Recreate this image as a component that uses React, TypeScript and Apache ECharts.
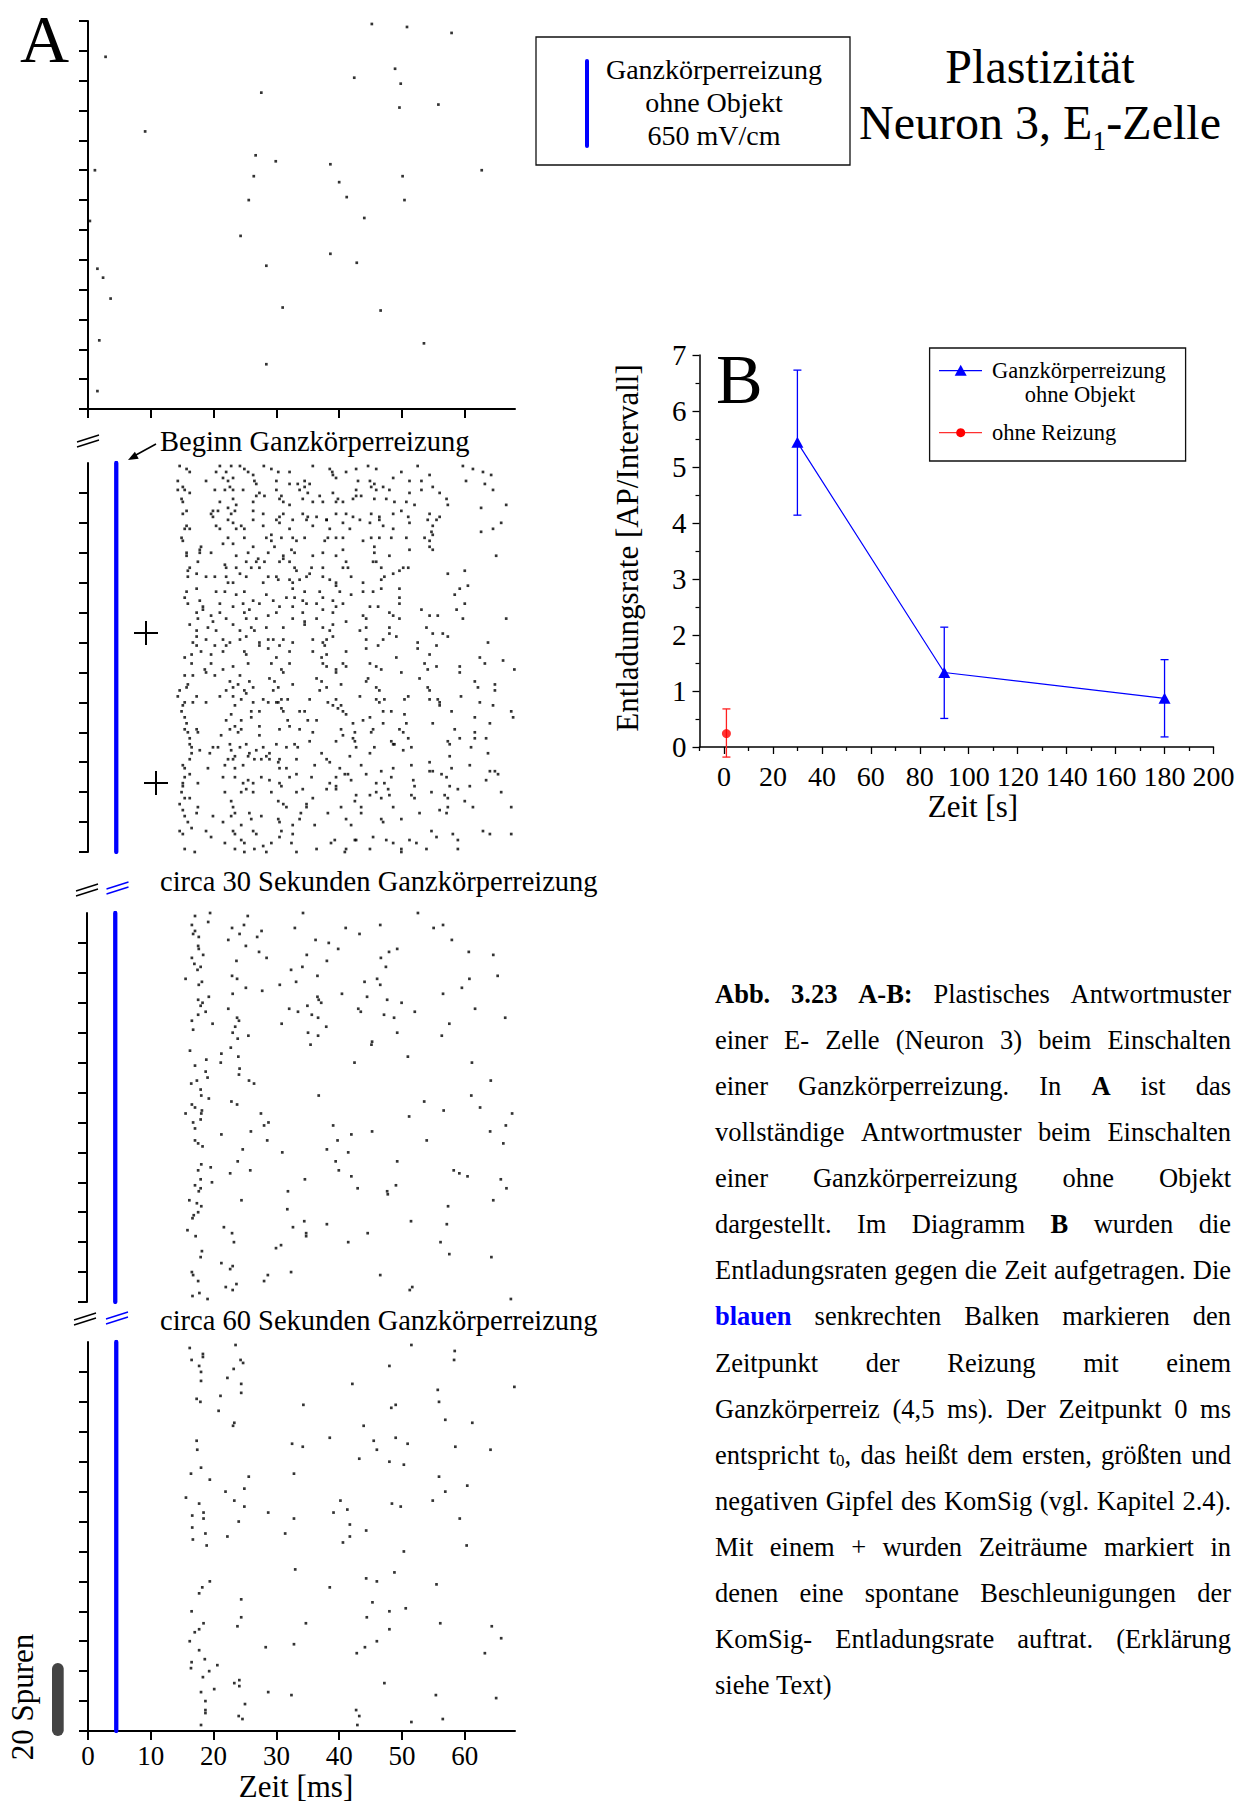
import React, { useEffect, useRef } from 'react';
import * as echarts from 'echarts';

// ---------------- DATA ----------------
const stimMs = 4.5;
const msTicks = [0, 10, 20, 30, 40, 50, 60];
const traceTicksTop = [0, 10, 20, 30, 40, 50, 60, 70, 80, 90, 100, 110, 120, 130];
const traceTicks = [0, 10, 20, 30, 40, 50, 60, 70, 80, 90, 100, 110, 120];
const sTicks = [0, 20, 40, 60, 80, 100, 120, 140, 160, 180, 200];
const sMinorTicks = [-10, 10, 30, 50, 70, 90, 110, 130, 150, 170, 190];

// Panel A, section 1: spontaneous activity before stimulation [ms, trace]
const raster1 = [
  [45.2,129],[50.8,128],[57.9,126],[2.8,118],[48.9,114],[42.4,111],[49.8,109],[27.6,106],[55.8,102],[49.6,101],
  [9.1,93],[26.7,85],[29.9,83],[38.6,82],[1.1,80],[62.7,80],[26.4,78],[50.1,78],[40.0,76],[41.2,71],[25.6,70],
  [50.4,70],[0.3,63],[44.0,64],[24.3,58],[38.6,52],[1.5,47],[28.4,48],[42.8,49],[2.4,44],[3.6,37],[31.0,34],
  [46.6,33],[1.8,23],[53.5,22],[28.4,15],[1.5,6],
];

// Section 2: Beginn Ganzkörperreizung (upper half)
const raster2a = [
  [14.6,129],[15.7,128],[16.2,127],[21.0,129],[22.8,129],[24.2,129],[24.9,128],[28.0,129],[29.2,128],[30.3,127],[32.1,127],[35.8,129],[38.5,128],[38.9,127],[41.1,127],[42.7,128],[44.6,129],[45.9,128],[48.6,125],[49.9,127],[52.5,129],[59.7,129],[61.3,128],[62.9,127],[64.2,126],[20.4,127],[22.0,127],[25.5,127],[26.3,126],
  [14.3,124],[18.8,124],[21.5,125],[22.3,124],[23.1,125],[26.5,124],[26.8,123],[30.0,124],[32.1,123],[33.4,123],[34.5,124],[35.3,123],[39.0,126],[39.5,125],[43.0,124],[44.9,124],[45.6,123],[51.2,124],[53.1,124],[54.4,126],[60.2,124],[63.2,123],[15.1,122],
  [14.3,121],[15.4,121],[16.2,120],[20.2,121],[21.8,121],[22.6,122],[23.1,121],[24.7,121],[27.3,120],[30.0,121],[30.8,119],[33.7,121],[34.5,122],[35.0,120],[36.9,119],[39.0,120],[39.8,118],[42.7,121],[43.5,119],[45.1,122],[45.9,121],[47.0,122],[48.0,121],[51.2,120],[53.1,121],[54.9,122],[56.0,120],[64.5,121],
  [14.9,118],[15.1,117],[21.0,117],[23.1,118],[23.6,116],[26.3,117],[26.8,119],[28.1,119],[30.5,118],[31.1,117],[32.1,116],[34.2,118],[35.8,117],[37.4,117],[39.5,117],[40.6,117],[42.2,118],[42.7,119],[45.6,118],[47.5,118],[48.8,117],[50.7,117],[52.0,116],[57.1,118],[57.3,116],[62.6,115],[66.6,116],[19.9,114],[20.7,114],[22.3,115],
  [15.1,113],[15.7,114],[19.6,113],[19.9,112],[22.3,111],[22.8,113],[23.4,114],[26.3,114],[26.3,111],[27.9,113],[30.5,112],[31.1,113],[32.6,111],[34.2,113],[35.0,112],[36.4,112],[38.0,111],[39.5,113],[41.1,113],[42.2,112],[43.3,111],[45.1,113],[46.4,112],[48.6,113],[49.9,114],[51.0,112],[54.4,113],[56.0,112],[55.5,111],
  [15.7,109],[16.2,108],[15.4,108],[20.4,109],[21.0,108],[23.1,110],[23.6,108],[24.4,109],[24.9,108],[27.9,109],[30.0,111],[30.5,110],[32.1,108],[34.8,111],[35.8,109],[38.0,111],[38.5,108],[40.6,110],[41.7,108],[44.9,110],[46.4,111],[47.0,109],[48.6,108],[51.2,110],[54.1,111],[54.9,109],[54.7,107],[62.6,107],[64.5,108],[65.8,110],
  [14.9,105],[15.1,104],[18.0,102],[21.5,103],[22.3,105],[23.1,103],[24.9,105],[26.3,102],[28.4,105],[29.2,106],[29.2,104],[30.8,105],[32.6,105],[33.2,104],[34.5,105],[37.7,104],[38.2,105],[39.5,105],[40.6,105],[43.8,104],[45.1,105],[46.4,105],[48.3,105],[50.7,105],[53.6,105],[54.4,104],[54.9,106],
  [15.7,100],[15.7,99],[17.8,101],[17.8,100],[19.6,100],[23.6,99],[25.5,100],[27.1,98],[28.7,100],[29.7,102],[31.1,99],[32.4,101],[32.9,100],[35.8,99],[37.4,100],[39.5,99],[40.6,101],[45.6,102],[45.6,100],[48.0,99],[51.2,101],[54.4,102],[54.9,101],[65.0,99],
  [15.9,94],[16.2,95],[17.5,97],[20.2,92],[21.8,96],[22.0,95],[23.6,95],[25.2,97],[26.0,95],[26.8,97],[27.3,95],[28.1,97],[30.5,97],[31.1,98],[32.1,97],[32.9,95],[33.2,94],[35.6,95],[37.4,95],[40.6,95],[41.1,97],[41.4,95],[45.4,97],[45.9,97],[46.7,95],[48.6,93],[49.6,94],[51.0,95],[57.3,93],[60.0,94],
  [15.9,92],[17.3,93],[18.8,92],[22.0,92],[22.3,90],[23.1,90],[24.2,93],[25.2,92],[27.9,90],[28.7,92],[30.0,92],[30.3,91],[32.1,91],[32.6,90],[33.7,91],[34.8,92],[35.3,93],[37.4,92],[38.5,91],[39.5,89],[39.5,90],[41.9,92],[43.8,90],[46.7,91],[47.2,92],[50.2,95],[60.5,89],
  [15.4,85],[15.7,87],[17.8,84],[17.3,88],[20.4,87],[21.8,87],[23.6,86],[24.9,87],[26.3,84],[28.4,86],[29.5,84],[31.6,85],[32.6,88],[32.9,85],[34.5,87],[36.9,87],[37.4,85],[39.0,84],[40.1,87],[40.6,83],[41.9,86],[43.8,87],[45.4,87],[46.7,88],[49.6,85],[49.6,88],[58.4,86],[59.2,88],
  [15.9,83],[18.3,82],[18.3,81],[21.0,83],[23.1,82],[24.7,83],[25.7,81],[27.3,83],[30.5,82],[32.6,82],[34.2,84],[34.8,83],[36.4,83],[37.4,81],[39.0,80],[39.5,82],[44.9,82],[46.2,82],[48.0,80],[49.6,83],[53.1,81],[58.7,81],[60.0,83],[55.7,79],
  [17.3,80],[17.5,78],[19.6,79],[21.0,80],[22.0,78],[24.9,80],[25.2,78],[26.8,78],[28.7,79],[30.0,80],[32.6,78],[34.2,80],[34.5,77],[36.4,78],[41.1,77],[43.8,79],[44.3,78],[48.6,79],[49.6,78],[54.4,79],[59.7,78],[66.6,78],
  [16.2,76],[17.3,74],[19.1,75],[19.9,77],[20.4,74],[23.1,76],[24.2,74],[26.0,75],[26.5,74],[28.4,75],[31.1,75],[34.5,76],[37.4,75],[38.5,74],[39.0,76],[43.3,74],[44.3,75],[48.0,73],[48.0,75],[53.9,75],[54.9,73],[56.5,73],
  [16.7,70],[17.3,72],[18.8,71],[21.5,71],[22.6,70],[24.2,71],[25.2,72],[27.3,70],[28.7,71],[29.5,71],[31.1,71],[32.6,70],[35.8,71],[37.4,70],[38.0,71],[39.0,72],[44.3,71],[47.0,71],[49.1,72],[52.5,70],[57.3,72],[63.7,70],
];

// Section 2: lower half
const raster2b = [
  [17.3,69],[20.2,69],[21.5,67],[22.0,69],[24.9,67],[25.2,66],[27.3,69],[28.7,68],[30.5,69],[32.1,67],[35.8,67],[37.7,69],[38.0,66],[41.1,67],[44.3,68],[46.2,69],[52.5,68],[55.5,69],[15.4,65],[16.5,66],[18.0,67],[19.6,66],
  [16.5,63],[18.6,61],[19.6,63],[20.2,59],[21.5,61],[23.1,62],[24.2,59],[25.5,63],[29.2,63],[30.0,65],[30.8,61],[31.1,60],[32.1,63],[37.2,65],[37.4,63],[38.0,62],[39.5,61],[40.6,63],[41.1,62],[44.9,63],[45.9,62],[46.7,61],[49.1,65],[49.9,60],[53.6,63],[54.1,61],[54.4,66],[55.5,62],[59.2,62],[59.2,60],[62.4,65],[63.2,63],[66.1,64],[67.9,61],
  [15.4,59],[15.9,56],[16.7,59],[15.7,55],[18.8,60],[22.6,57],[23.1,55],[23.9,56],[24.9,54],[25.7,57],[26.3,55],[28.9,58],[29.7,57],[30.3,55],[32.6,56],[36.4,58],[37.2,57],[38.0,55],[39.5,60],[40.3,56],[44.3,57],[44.6,58],[45.9,55],[46.4,54],[52.8,58],[54.1,55],[54.4,54],[61.6,57],[62.1,55],[64.8,56],[64.8,54],
  [14.6,54],[14.3,52],[15.4,50],[17.3,52],[18.8,50],[21.0,52],[22.0,54],[23.1,52],[24.4,51],[25.2,53],[26.3,50],[27.9,51],[29.5,54],[30.0,50],[30.8,51],[31.8,51],[35.3,51],[36.9,54],[38.2,50],[39.5,51],[40.3,49],[43.3,52],[45.9,51],[46.4,50],[47.2,51],[50.4,51],[51.0,52],[54.4,51],[55.7,51],[56.0,50],[59.4,52],[62.4,50],[64.5,49],
  [15.1,49],[14.9,47],[15.4,45],[15.7,43],[16.7,50],[22.0,44],[22.8,46],[23.4,49],[24.4,44],[26.0,47],[26.0,45],[27.3,47],[28.7,50],[30.3,50],[30.8,48],[31.1,47],[31.8,44],[33.7,47],[34.5,47],[35.0,44],[36.4,44],[39.0,49],[39.8,48],[40.6,47],[41.1,46],[42.2,43],[43.8,44],[44.9,45],[47.0,47],[47.0,43],[48.3,47],[50.4,46],[50.7,43],[54.9,43],[56.0,49],[57.9,47],[61.6,45],[64.0,43],[67.4,47],[67.7,45],
  [15.4,41],[15.9,40],[16.2,38],[17.3,41],[17.5,40],[21.2,39],[22.6,41],[23.4,42],[23.9,40],[24.4,41],[27.3,42],[27.3,39],[30.5,41],[32.1,42],[33.7,41],[35.8,40],[40.3,41],[40.6,39],[42.2,38],[42.5,40],[45.1,40],[45.4,41],[48.6,36],[49.6,41],[50.2,40],[51.0,38],[57.3,37],[58.4,41],[59.2,38],[61.6,40],[61.6,38],[63.4,38],
  [16.2,36],[16.5,35],[16.5,33],[17.8,34],[19.4,33],[19.9,35],[20.7,35],[22.6,36],[22.8,34],[23.4,32],[24.2,35],[25.2,36],[25.7,33],[26.8,34],[27.9,35],[28.4,32],[28.9,33],[30.0,36],[30.5,31],[31.6,35],[32.9,36],[33.4,35],[35.3,37],[37.2,33],[38.0,31],[39.5,37],[41.7,32],[42.5,37],[42.7,35],[44.9,33],[45.6,35],[48.3,37],[48.8,36],[50.2,34],[51.5,35],[57.6,36],[57.6,32],[61.0,35],[63.7,33],
  [15.1,29],[15.4,28],[16.2,31],[19.1,28],[21.8,29],[22.3,31],[23.1,31],[23.4,28],[24.7,29],[25.5,32],[26.5,31],[27.6,31],[28.9,31],[30.3,30],[30.5,28],[31.6,28],[33.2,31],[36.1,29],[38.5,30],[40.1,28],[41.4,26],[43.5,29],[46.7,27],[48.6,28],[51.5,29],[54.4,30],[54.9,27],[57.9,28],[60.8,29],[64.0,27],[65.3,26],
  [16.2,26],[15.4,25],[15.1,23],[15.1,22],[17.5,23],[21.5,25],[23.4,25],[24.7,23],[25.5,24],[26.3,23],[27.6,25],[28.9,24],[30.5,23],[30.8,22],[32.1,25],[33.2,26],[34.2,21],[35.6,25],[38.5,23],[39.5,25],[39.5,22],[40.9,26],[41.9,24],[44.3,26],[45.9,23],[47.2,23],[47.8,21],[48.3,25],[51.8,24],[52.0,22],[54.4,27],[56.3,26],[57.1,25],[57.6,22],[58.9,21],[60.8,22],[63.4,24],[64.8,27],
  [14.9,20],[14.6,16],[15.4,18],[16.2,18],[17.5,15],[21.8,20],[22.8,17],[23.1,15],[24.4,20],[25.2,21],[26.3,20],[29.2,20],[30.3,17],[31.1,16],[31.6,15],[33.2,20],[34.8,16],[34.8,15],[35.8,18],[38.0,21],[39.5,21],[42.5,17],[42.7,19],[44.9,19],[45.9,20],[46.7,18],[48.0,19],[51.5,19],[52.0,18],[54.7,20],[56.8,19],[57.3,18],[60.0,17],[65.8,20],
  [15.1,14],[15.4,12],[15.9,10],[16.5,8],[17.3,13],[19.9,12],[21.5,10],[22.8,12],[23.4,13],[24.4,9],[25.7,13],[26.0,11],[27.6,12],[30.3,11],[30.5,10],[32.6,9],[33.7,11],[33.9,13],[36.1,9],[38.2,13],[40.3,15],[41.1,11],[41.9,9],[43.5,15],[43.5,13],[46.7,11],[47.0,10],[48.6,15],[49.9,11],[52.8,13],[56.0,14],[57.1,13],[57.3,15],[61.3,15],[67.4,15],
  [14.6,7],[15.1,6],[18.8,7],[19.6,5],[21.8,3],[23.1,7],[23.4,6],[24.4,4],[24.9,3],[26.3,7],[26.8,6],[27.9,2],[28.4,0],[29.2,3],[30.5,5],[30.8,7],[32.4,3],[32.6,6],[33.2,0],[36.4,1],[38.7,3],[39.3,4],[40.9,0],[41.1,1],[42.5,4],[42.7,4],[44.9,1],[45.4,5],[47.5,4],[48.6,3],[49.9,1],[49.9,0],[51.2,4],[52.3,3],[53.9,1],[54.7,7],[55.5,5],[58.1,6],[58.9,4],[58.9,1],[62.9,7],[64.0,6],[67.4,6],[15.4,1],[17.0,0],[23.4,1],[24.9,0],[26.5,1],
];

// Section 3: circa 30 Sekunden Ganzkörperreizung
const raster3 = [
  [17.2,129],[19.6,130],[19.3,127],[25.6,129],[34.4,130],[52.7,130],[16.7,126],[17.2,124],[17.8,122],[16.9,123],[23.1,125],[25.0,126],[24.3,123],[27.8,124],[27.1,122],[33.1,125],[41.2,125],[43.4,123],[46.7,126],[55.2,125],[56.7,126],
  [22.5,121],[25.3,119],[17.7,119],[17.8,118],[18.5,116],[36.4,121],[38.5,120],[40.0,118],[48.1,117],[49.4,118],[58.1,121],[60.8,117],[64.7,116],[16.7,115],[17.1,113],[17.6,111],[18.1,112],[23.8,114],[27.4,117],[28.6,115],[35.0,116],[38.2,114],[46.8,115],[47.6,112],
  [15.7,108],[17.8,106],[18.3,107],[23.1,109],[23.9,108],[32.5,111],[34.3,112],[36.7,109],[33.3,107],[30.7,106],[27.9,104],[25.3,105],[23.2,103],[44.2,107],[46.2,108],[46.7,106],[60.9,108],[65.4,109],[59.7,105],
  [17.7,101],[18.1,99],[19.4,102],[18.4,100],[18.9,97],[17.7,96],[22.5,98],[32.2,98],[33.6,97],[35.1,99],[36.7,102],[36.9,101],[37.3,100],[35.8,96],[36.8,95],[40.6,103],[44.6,102],[43.2,98],[43.6,97],[47.8,101],[50.1,100],[47.3,96],[48.9,95],[52.2,97],[56.7,103],[61.8,98],[66.6,95],
  [16.7,94],[16.9,91],[20.0,93],[23.9,95],[24.2,94],[23.6,92],[23.2,90],[25.7,89],[24.0,88],[22.9,85],[31.0,93],[35.2,90],[36.8,89],[38.1,92],[35.6,86],[45.4,87],[45.3,86],[49.4,90],[56.5,89],[57.7,93],
  [16.4,84],[17.2,79],[21.4,83],[21.3,80],[24.1,82],[19.0,81],[18.9,77],[19.2,75],[24.3,78],[24.2,76],[25.8,74],[26.6,73],[42.6,80],[51.1,82],[61.3,80],[64.3,74],
  [16.6,73],[17.5,74],[18.1,71],[18.2,69],[19.4,68],[23.0,67],[23.9,66],[36.9,69],[53.7,67],[61.2,69],[62.6,65],[56.8,64],[16.7,66],[17.2,65],[18.3,64],
  [15.7,63],[16.9,60],[17.2,58],[18.1,61],[18.2,63],[27.7,63],[28.9,60],[28.2,59],[26.1,57],[21.4,56],[28.7,54],[39.2,59],[42.1,56],[45.4,57],[39.9,54],[51.3,62],[54.1,54],[64.2,57],[66.7,59],[67.7,63],[66.3,53],
  [17.2,54],[17.7,53],[18.4,52],[24.8,51],[31.1,50],[38.2,51],[41.6,50],[18.2,46],[19.7,45],[17.7,44],[24.0,47],[26.0,44],[22.8,43],[39.6,47],[40.1,44],[49.4,47],[58.4,44],[59.3,43],[60.6,42],
  [18.1,41],[17.2,39],[18.1,38],[17.8,37],[19.9,40],[34.7,41],[32.0,37],[42.1,42],[43.1,38],[47.8,37],[47.9,36],[49.2,39],[65.9,41],[66.8,38],
  [16.3,34],[17.5,33],[18.2,32],[17.7,30],[17.0,29],[16.8,28],[24.6,34],[31.9,31],[57.5,32],[64.7,34],
  [16.0,24],[17.3,22],[21.8,25],[23.1,23],[23.4,20],[32.8,25],[34.6,27],[34.9,23],[34.9,22],[38.2,26],[41.6,20],[44.7,23],[51.6,27],[57.3,26],[56.3,20],
  [30.1,18],[30.9,19],[18.3,17],[18.1,15],[57.7,16],[64.4,15],[16.7,10],[16.9,9],[17.7,7],[21.4,13],[23.2,12],[22.8,11],[32.5,10],[28.8,9],[28.2,7],[46.7,9],
  [22.1,5],[23.8,6],[23.2,4],[51.8,5],[51.4,4],[16.8,2],[17.9,3],[19.2,1],[67.5,1],
];

// Section 4: circa 60 Sekunden Ganzkörperreizung
const raster4 = [
  [16.2,128],[23.5,129],[51.5,129],[16.5,124],[18.3,126],[18.3,125],[24.3,124],[24.7,123],[58.4,127],[58.3,124],
  [17.7,122],[18.0,120],[18.0,117],[23.2,121],[22.2,118],[24.4,116],[24.4,113],[48.0,122],[42.1,116],[67.9,115],[55.7,114],[55.9,110],
  [17.3,111],[17.9,110],[21.1,112],[20.8,107],[34.3,109],[48.3,108],[49.0,109],[23.3,103],[23.1,102],[43.9,102],[56.9,104],[61.2,103],
  [17.3,97],[17.4,94],[32.5,96],[34.2,95],[38.5,98],[45.5,97],[46.0,94],[49.0,98],[50.9,96],[58.5,95],[64.1,94],[43.2,91],[48.0,90],[50.3,89],
  [18.0,88],[16.4,86],[19.4,84],[25.6,85],[32.8,86],[55.9,85],[60.4,82],[24.9,81],[21.9,80],[15.6,78],[17.7,76],[23.3,77],[24.9,75],
  [16.6,72],[18.4,73],[18.4,71],[28.7,73],[40.2,77],[39.1,73],[41.3,74],[48.4,76],[49.8,75],[54.9,77],[56.9,80],[24.0,70],[32.8,71],[59.2,71],
  [16.6,68],[18.7,66],[16.7,64],[18.9,62],[22.2,65],[31.4,66],[41.7,69],[41.7,65],[40.6,63],[44.3,67],[50.3,60],[60.3,62],
  [33.0,54],[44.3,51],[46.0,50],[48.8,53],[19.4,50],[18.2,48],[17.7,46],[38.5,48],[55.5,49],[24.4,44],[16.5,40],[45.3,43],[50.6,41],[48.0,40],
  [24.4,38],[23.8,35],[18.4,36],[17.7,34],[17.0,33],[44.4,38],[34.7,36],[56.1,36],[64.3,35],[65.8,31],[48.0,34],
  [16.2,30],[17.7,27],[32.8,29],[28.3,28],[46.0,30],[44.1,28],[42.8,26],[63.2,26],[16.5,23],[16.4,21],[18.6,24],[20.6,22],[19.3,20],[18.3,18],
  [23.3,16],[24.1,17],[24.1,15],[47.2,16],[20.1,14],[18.0,13],[28.7,13],[32.4,12],[18.7,10],[25.0,9],[55.4,12],[65.0,11],
  [18.7,7],[18.7,6],[24.0,5],[24.6,4],[42.7,7],[43.2,5],[42.9,2],[18.0,2],[51.5,3],[56.5,4],
];

// Panel B: Entladungsrate [AP/Intervall] vs. Zeit [s]
const rateTime = [30, 90, 180];
const rateMean = [5.44, 1.33, 0.87];
const rateLow = [4.14, 0.51, 0.18];
const rateHigh = [6.73, 2.14, 1.56];
const baseTime = [1];
const baseMean = [0.24];
const baseLow = [-0.18];
const baseHigh = [0.68];

const captionLines = [
  '**Abb. **3.23 **A-B: Plastisches Antwortmuster',
  'einer E- Zelle (Neuron 3) beim Einschalten',
  'einer Ganzkörperreizung. In **A ist das',
  'vollständige Antwortmuster beim Einschalten',
  'einer Ganzkörperreizung ohne Objekt',
  'dargestellt. Im Diagramm **B wurden die',
  'Entladungsraten gegen die Zeit aufgetragen. Die',
  '##blauen senkrechten Balken markieren den',
  'Zeitpunkt der Reizung mit einem',
  'Ganzkörperreiz (4,5 ms). Der Zeitpunkt 0 ms',
  'entspricht t_0, das heißt dem ersten, größten und',
  'negativen Gipfel des KomSig (vgl. Kapitel 2.4).',
  'Mit einem + wurden Zeiträume markiert in',
  'denen eine spontane Beschleunigungen der',
  'KomSig- Entladungsrate auftrat. (Erklärung',
  'siehe Text)',
];

// ---------------- RENDER ----------------
const SERIF = "'Liberation Serif', 'Times New Roman', serif";

type Seg = { t: string; bold?: boolean; blue?: boolean; sub?: boolean };

function parseWord(w: string): Seg[] {
  let bold = false, blue = false;
  if (w.startsWith('**')) { bold = true; w = w.slice(2); }
  else if (w.startsWith('##')) { bold = true; blue = true; w = w.slice(2); }
  const idx = w.indexOf('_');
  if (idx >= 0) {
    return [
      { t: w.slice(0, idx), bold, blue },
      { t: w.slice(idx + 1, idx + 2), bold, blue, sub: true },
      { t: w.slice(idx + 2), bold, blue },
    ].filter((s) => s.t.length > 0);
  }
  return [{ t: w, bold, blue }];
}

export default function App() {
  const ref = useRef<HTMLDivElement>(null);

  useEffect(() => {
    if (!ref.current) return;
    const chart = echarts.init(ref.current, undefined, { renderer: 'svg' });

    const canvas = document.createElement('canvas');
    const ctx = canvas.getContext('2d') as CanvasRenderingContext2D;
    const measure = (t: string, size: number, bold = false) => {
      ctx.font = `${bold ? 'bold ' : ''}${size}px ${SERIF}`;
      return ctx.measureText(t).width;
    };

    const txt = (text: string, x: number, y: number, size: number, opts: any = {}) => ({
      type: 'text',
      x,
      y,
      rotation: opts.rotation || 0,
      silent: true,
      style: {
        text,
        fontSize: size,
        fontFamily: SERIF,
        fontWeight: opts.bold ? 'bold' : 'normal',
        fill: opts.fill || '#000',
        align: opts.align || 'left',
        verticalAlign: 'middle',
      },
    });
    const ln = (x1: number, y1: number, x2: number, y2: number, stroke = '#000', lineWidth = 1.5, cap = 'butt') => ({
      type: 'line',
      silent: true,
      shape: { x1, y1, x2, y2 },
      style: { stroke, lineWidth, lineCap: cap },
    });

    const g: any[] = [];

    // Panel letters
    g.push(txt('A', 20, 39, 68));
    g.push(txt('B', 716, 379, 70));

    // Legend box panel A
    g.push({ type: 'rect', silent: true, shape: { x: 536, y: 37, width: 314, height: 128 }, style: { fill: 'none', stroke: '#111', lineWidth: 1.3 } });
    g.push(ln(587, 61, 587, 146, '#0000ff', 4, 'round'));
    g.push(txt('Ganzkörperreizung', 714, 69, 28, { align: 'center' }));
    g.push(txt('ohne Objekt', 714, 102, 28, { align: 'center' }));
    g.push(txt('650 mV/cm', 714, 135, 28, { align: 'center' }));

    // Title
    g.push(txt('Plastizität', 1040, 66, 48, { align: 'center' }));
    {
      const w1 = measure('Neuron 3, E', 48);
      const w2 = measure('1', 28);
      const w3 = measure('-Zelle', 48);
      const x0 = 1040 - (w1 + w2 + w3) / 2;
      g.push(txt('Neuron 3, E', x0, 122, 48));
      g.push(txt('1', x0 + w1, 140, 28));
      g.push(txt('-Zelle', x0 + w1 + w2, 122, 48));
    }

    // Section labels
    g.push(txt('Beginn Ganzkörperreizung', 160, 441, 28.5));
    g.push(txt('circa 30 Sekunden Ganzkörperreizung', 160, 881, 28.5));
    g.push(txt('circa 60 Sekunden Ganzkörperreizung', 160, 1320, 28.5));

    // Arrow
    g.push(ln(156, 444, 135, 455.5, '#000', 1.5));
    g.push({ type: 'polygon', silent: true, shape: { points: [[128, 460], [138.7, 458.8], [134.9, 451.8]] }, style: { fill: '#000' } });

    // Break marks
    const brk = (cx: number, cy: number, color: string) => {
      g.push(ln(cx - 11, cy - 1, cx + 11, cy - 8, color, 1.4));
      g.push(ln(cx - 11, cy + 4, cx + 11, cy - 3, color, 1.4));
    };
    brk(88, 443, '#000');
    brk(87, 892, '#000');
    brk(117.5, 890, '#0000ff');
    brk(85, 1321, '#000');
    brk(117, 1320, '#0000ff');

    // Plus marks
    const plus = (cx: number, cy: number) => {
      g.push(ln(cx - 12, cy, cx + 12, cy, '#000', 2));
      g.push(ln(cx, cy - 12, cx, cy + 12, '#000', 2));
    };
    plus(146, 633);
    plus(156, 783);

    // Scale bar "20 Spuren"
    g.push({ type: 'rect', silent: true, shape: { x: 52, y: 1663, width: 11.7, height: 73, r: 5.8 }, style: { fill: '#444' } });
    g.push(txt('20 Spuren', 22.5, 1697, 31, { align: 'center', rotation: Math.PI / 2 }));

    // Axis titles
    g.push(txt('Zeit [ms]', 296, 1786, 31, { align: 'center' }));
    g.push(txt('Zeit [s]', 973, 806, 31, { align: 'center' }));
    g.push(txt('Entladungsrate [AP/Intervall]', 627, 548, 31, { align: 'center', rotation: Math.PI / 2 }));

    // Legend panel B
    g.push({ type: 'rect', silent: true, shape: { x: 929.6, y: 348, width: 256, height: 113 }, style: { fill: 'none', stroke: '#111', lineWidth: 1.3 } });
    g.push(ln(939, 370.7, 982, 370.7, '#0000ff', 1.2));
    g.push({ type: 'polygon', silent: true, shape: { points: [[960.7, 364.7], [966.7, 375.7], [954.7, 375.7]] }, style: { fill: '#0000ff' } });
    g.push(txt('Ganzkörperreizung', 992, 370.7, 22.5));
    g.push(txt('ohne Objekt', 1080, 394, 22.5, { align: 'center' }));
    g.push(ln(939, 432.7, 982, 432.7, '#ff3030', 1.2));
    g.push({ type: 'circle', silent: true, shape: { cx: 960.7, cy: 432.7, r: 4.5 }, style: { fill: '#ff0000' } });
    g.push(txt('ohne Reizung', 992, 432.7, 22.5));

    // Caption (justified)
    {
      const left = 715, right = 1231, top = 994, lh = 46.07, fs = 26.5, subFs = 17;
      captionLines.forEach((line, li) => {
        const words = line.split(' ').map(parseWord);
        const segW = (s: Seg) => measure(s.t, s.sub ? subFs : fs, !!s.bold);
        const widths = words.map((w) => w.reduce((a, s) => a + segW(s), 0));
        const total = widths.reduce((a, b) => a + b, 0);
        const isLast = li === captionLines.length - 1;
        const gap = isLast || words.length < 2 ? measure(' ', fs) : (right - left - total) / (words.length - 1);
        let x = left;
        const y = top + li * lh;
        words.forEach((w, wi) => {
          let sx = x;
          w.forEach((s) => {
            g.push(txt(s.t, sx, s.sub ? y + 6 : y, s.sub ? subFs : fs, { bold: s.bold, fill: s.blue ? '#0000ff' : '#000' }));
            sx += segW(s);
          });
          x += widths[wi] + gap;
        });
      });
    }

    const black = { color: '#000', width: 2 };
    const gridsA = [
      { left: 88, top: 21, width: 427, height: 388 },
      { left: 88, top: 463, width: 427, height: 389 },
      { left: 87, top: 913, width: 427, height: 389 },
      { left: 88, top: 1342, width: 427, height: 389 },
    ];
    const grids = [...gridsA, { left: 699.5, top: 355, width: 514, height: 392 }];

    const xAxes: any[] = gridsA.map((_, i) => ({
      gridIndex: i,
      type: 'value',
      position: 'bottom',
      min: 0,
      max: 68,
      interval: 10,
      show: i === 0 || i === 3,
      axisLine: { show: true, onZero: false, lineStyle: black },
      axisTick: { show: true, length: 9, customValues: msTicks, lineStyle: black },
      axisLabel: {
        show: i === 3,
        customValues: msTicks,
        fontSize: 27,
        fontFamily: SERIF,
        color: '#000',
        margin: 11,
        formatter: (v: number) => (v <= 60 ? String(v) : ''),
      },
      splitLine: { show: false },
    }));
    xAxes.push({
      gridIndex: 4,
      type: 'value',
      position: 'bottom',
      min: -10,
      max: 200,
      interval: 10,
      axisLine: { onZero: false, lineStyle: { color: '#000', width: 1.5 } },
      axisTick: { length: 7, customValues: sTicks, lineStyle: { color: '#000', width: 1.3 } },
      axisLabel: {
        customValues: sTicks,
        fontSize: 28,
        fontFamily: SERIF,
        color: '#000',
        margin: 15,
        formatter: (v: number) => (v >= 0 && v % 20 === 0 ? String(v) : ''),
      },
      splitLine: { show: false },
    });
    xAxes.push({
      gridIndex: 4,
      type: 'value',
      position: 'bottom',
      min: -10,
      max: 200,
      interval: 10,
      axisLine: { show: false, onZero: false },
      axisTick: { length: 4, customValues: sMinorTicks, lineStyle: { color: '#000', width: 1.3 } },
      axisLabel: { show: false },
      splitLine: { show: false },
    });

    const yAxes: any[] = gridsA.map((_, i) => ({
      gridIndex: i,
      type: 'value',
      min: 0,
      max: 130,
      interval: 10,
      axisLine: { show: true, onZero: false, lineStyle: black },
      axisTick: { show: true, length: 9, customValues: i === 0 ? traceTicksTop : traceTicks, lineStyle: black },
      axisLabel: { show: false },
      splitLine: { show: false },
    }));
    yAxes.push({
      gridIndex: 4,
      type: 'value',
      min: 0,
      max: 7,
      interval: 1,
      axisLine: { show: true, onZero: false, lineStyle: { color: '#000', width: 1.5 } },
      axisTick: { length: 7, lineStyle: { color: '#000', width: 1.3 } },
      minorTick: { show: true, splitNumber: 2, length: 4, lineStyle: { color: '#000', width: 1.2 } },
      axisLabel: { fontSize: 29, fontFamily: SERIF, color: '#000', margin: 13 },
      splitLine: { show: false },
    });

    const rasters = [raster1, raster2a.concat(raster2b), raster3, raster4];
    const series: any[] = rasters.map((d, i) => ({
      type: 'scatter',
      xAxisIndex: i,
      yAxisIndex: i,
      data: d,
      symbol: 'rect',
      symbolSize: 2.7,
      itemStyle: { color: '#000' },
      silent: true,
    }));
    [1, 2, 3].forEach((i) => {
      series.push({
        type: 'line',
        xAxisIndex: i,
        yAxisIndex: i,
        data: [[stimMs, 0], [stimMs, 130]],
        symbol: 'none',
        lineStyle: { color: '#0000ff', width: 4.3, cap: 'round' },
        silent: true,
      });
    });

    const errRender = (color: string) => (params: any, api: any) => {
      const x = api.value(0), lo = api.value(1), hi = api.value(2);
      const p1 = api.coord([x, hi]);
      const p2 = api.coord([x, lo]);
      const cap = 4;
      const style = { stroke: color, lineWidth: 1.3 };
      return {
        type: 'group',
        children: [
          { type: 'line', shape: { x1: p1[0], y1: p1[1], x2: p2[0], y2: p2[1] }, style },
          { type: 'line', shape: { x1: p1[0] - cap, y1: p1[1], x2: p1[0] + cap, y2: p1[1] }, style },
          { type: 'line', shape: { x1: p2[0] - cap, y1: p2[1], x2: p2[0] + cap, y2: p2[1] }, style },
        ],
      };
    };

    series.push({
      type: 'custom',
      xAxisIndex: 4,
      yAxisIndex: 4,
      renderItem: errRender('#0000ff'),
      data: rateTime.map((t, i) => [t, rateLow[i], rateHigh[i]]),
      encode: { x: 0, y: [1, 2] },
      clip: false,
      z: 2,
      silent: true,
    });
    series.push({
      type: 'custom',
      xAxisIndex: 4,
      yAxisIndex: 4,
      renderItem: errRender('#ff2020'),
      data: baseTime.map((t, i) => [t, baseLow[i], baseHigh[i]]),
      encode: { x: 0, y: [1, 2] },
      clip: false,
      z: 2,
      silent: true,
    });
    series.push({
      type: 'line',
      xAxisIndex: 4,
      yAxisIndex: 4,
      data: rateTime.map((t, i) => [t, rateMean[i]]),
      symbol: 'triangle',
      symbolSize: [12, 11],
      itemStyle: { color: '#0000ff' },
      lineStyle: { color: '#0000ff', width: 1.2 },
      z: 3,
      silent: true,
    });
    series.push({
      type: 'scatter',
      xAxisIndex: 4,
      yAxisIndex: 4,
      data: baseTime.map((t, i) => [t, baseMean[i]]),
      symbol: 'circle',
      symbolSize: 9,
      itemStyle: { color: '#ff0000' },
      z: 3,
      silent: true,
    });

    chart.setOption({
      animation: false,
      backgroundColor: '#fff',
      grid: grids,
      xAxis: xAxes,
      yAxis: yAxes,
      series,
      graphic: { elements: g },
    });

    return () => chart.dispose();
  }, []);

  return (
    <div
      ref={ref}
      style={{ position: 'absolute', left: 0, top: 0, width: 1250, height: 1803, background: '#fff' }}
    />
  );
}
